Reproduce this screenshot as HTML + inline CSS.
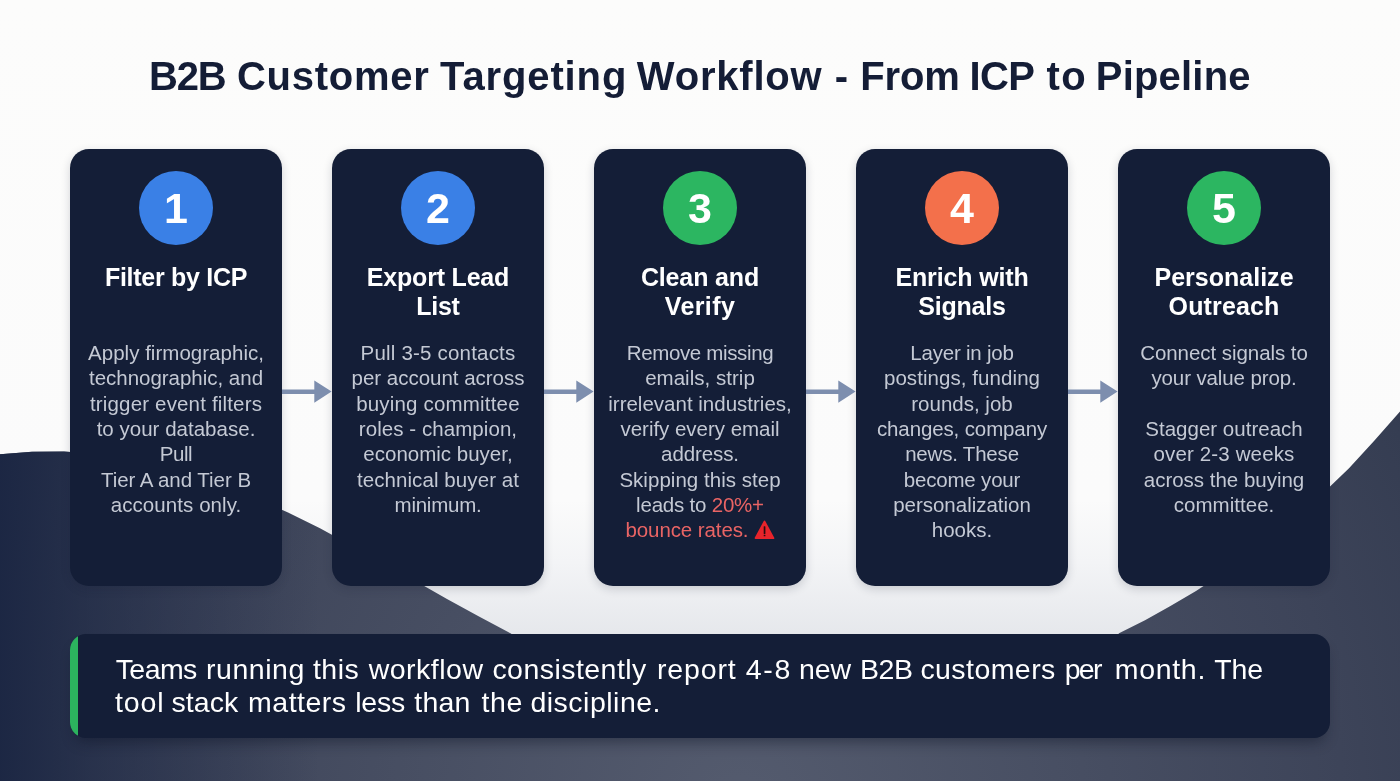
<!DOCTYPE html>
<html lang="en">
<head>
<meta charset="utf-8">
<title>B2B Customer Targeting Workflow - From ICP to Pipeline</title>
<style>
*{box-sizing:border-box;margin:0;padding:0}
html,body{width:1400px;height:781px;overflow:hidden;background:#fcfcfc}
body{position:relative;font-family:"Liberation Sans",sans-serif;-webkit-font-smoothing:antialiased}
#bg{position:absolute;left:0;top:0;width:1400px;height:781px}
h1{position:absolute;left:0;top:52px;width:1400px;text-align:left;font-size:40px;line-height:48px;font-weight:700;color:#141d36;white-space:nowrap;letter-spacing:0}
.card{position:absolute;top:149px;width:212px;height:437px;border-radius:19px;background:#141e37;box-shadow:0 3px 10px rgba(20,28,50,.18)}
.num{position:absolute;left:69px;top:22px;width:74px;height:74px;border-radius:50%;color:#fff;font-weight:700;font-size:43px;line-height:74.4px;text-align:center}
.blue{background:#3a80e6}.green{background:#2cb661}.orange{background:#f3704b}
.card h2{position:absolute;left:0;top:114px;width:212px;text-align:center;color:#fff;font-size:25px;line-height:29.2px;font-weight:700;white-space:nowrap}
.card p{position:absolute;left:0;top:191.3px;width:212px;text-align:center;color:#c4c9d4;font-size:20.5px;line-height:25.35px;white-space:nowrap}
.red{color:#e96464}
span.l{display:block}
span.wl{position:relative}
h1 span.wl{height:48px}
#bar span.wl{height:33px}
span.w{position:absolute;top:0}
h1,h2,p,.num{will-change:transform}
.warn{display:inline-block;vertical-align:-2.6px;margin-left:-0.6px}
.arrow{position:absolute;top:379px;width:50px;height:26px}
#bar{position:absolute;left:70px;top:634px;width:1260px;height:104px;border-radius:16px;background:#141e37;overflow:hidden;box-shadow:0 9px 14px -5px rgba(12,18,36,.45)}
#bar:before{content:"";position:absolute;left:0;top:0;width:8px;height:100%;background:#2cb35e}
#bar p{position:absolute;left:45px;top:18.5px;width:1200px;color:#fff;font-size:28.5px;line-height:33px;white-space:nowrap}
</style>
</head>
<body>
<svg id="bg" viewBox="0 0 1400 781">
  <defs>
    <radialGradient id="g1" gradientUnits="userSpaceOnUse" cx="740" cy="805" r="860">
      <stop offset="0" stop-color="#545b6e"/>
      <stop offset="0.4" stop-color="#474e62"/>
      <stop offset="0.7" stop-color="#3d4459"/>
      <stop offset="0.88" stop-color="#353d52"/>
      <stop offset="1" stop-color="#2c344a"/>
    </radialGradient>
    <linearGradient id="g2" gradientUnits="userSpaceOnUse" x1="0" y1="0" x2="320" y2="0">
      <stop offset="0" stop-color="#1b2643" stop-opacity="0.95"/>
      <stop offset="0.3" stop-color="#1d2845" stop-opacity="0.6"/>
      <stop offset="1" stop-color="#1d2845" stop-opacity="0"/>
    </linearGradient>
    <linearGradient id="g0" x1="0" y1="0" x2="0" y2="1">
      <stop offset="0" stop-color="#fcfcfb"/>
      <stop offset="0.64" stop-color="#fbfbfb"/>
      <stop offset="0.72" stop-color="#f3f4f6"/>
      <stop offset="0.81" stop-color="#e6e8ec"/>
      <stop offset="1" stop-color="#e6e8ec"/>
    </linearGradient>
  </defs>
  <rect width="1400" height="781" fill="url(#g0)"/>
  <path id="wave" d="M0,454.2 L32,451.7 L64,451.6 L96,453.9 L128,458.5 L160,465.4 L192,474.4 L224,485.4 L256,498.2 L288,512.6 L320,528.3 L351,545.2 L383,562.8 L415,580.8 L447,598.9 L479,616.6 L511,633.6 L514,637 L1116,637 L1119,633.3 L1145,620.3 L1170,606.2 L1196,591.1 L1221,574.6 L1247,556.8 L1272,537.4 L1298,516.2 L1323,493.2 L1349,468.2 L1374,441.0 L1400,411.4 L1400,781 L0,781 Z" fill="url(#g1)"/>
  <path d="M0,454.2 L32,451.7 L64,451.6 L96,453.9 L128,458.5 L160,465.4 L192,474.4 L224,485.4 L256,498.2 L288,512.6 L320,528.3 L351,545.2 L383,562.8 L415,580.8 L447,598.9 L479,616.6 L511,633.6 L514,637 L1116,637 L1119,633.3 L1145,620.3 L1170,606.2 L1196,591.1 L1221,574.6 L1247,556.8 L1272,537.4 L1298,516.2 L1323,493.2 L1349,468.2 L1374,441.0 L1400,411.4 L1400,781 L0,781 Z" fill="url(#g2)"/>
</svg>

<h1><span class="l wl" id="t0"><span class="w" style="left:149.10px;letter-spacing:-1.266px">B2B</span> <span class="w" style="left:236.90px;letter-spacing:0.738px">Customer</span> <span class="w" style="left:440.10px;letter-spacing:0.872px">Targeting</span> <span class="w" style="left:636.80px;letter-spacing:0.808px">Workflow</span> <span class="w" style="left:834.70px;letter-spacing:0.000px">-</span> <span class="w" style="left:860.20px;letter-spacing:-0.145px">From</span> <span class="w" style="left:969.40px;letter-spacing:-0.550px">ICP</span> <span class="w" style="left:1046.60px;letter-spacing:1.380px">to</span> <span class="w" style="left:1095.80px;letter-spacing:0.195px">Pipeline</span></span></h1>
<div class="card" style="left:70px">
  <div class="num blue">1</div>
  <h2><span class="l" id="h0_0" style="letter-spacing:-0.281px">Filter by ICP</span></h2>
  <p><span class="l" id="b0_0" style="letter-spacing:0.024px">Apply firmographic,</span><span class="l" id="b0_1" style="letter-spacing:-0.017px">technographic, and</span><span class="l" id="b0_2" style="letter-spacing:0.169px">trigger event filters</span><span class="l" id="b0_3" style="letter-spacing:0.017px">to your database.</span><span class="l" id="b0_4" style="letter-spacing:-0.450px">Pull</span><span class="l" id="b0_5" style="letter-spacing:-0.044px">Tier A and Tier B</span><span class="l" id="b0_6" style="letter-spacing:0.082px">accounts only.</span></p>
</div>
<div class="card" style="left:332px">
  <div class="num blue">2</div>
  <h2><span class="l" id="h1_0" style="letter-spacing:-0.198px">Export Lead</span><span class="l" id="h1_1" style="letter-spacing:-0.284px">List</span></h2>
  <p><span class="l" id="b1_0" style="letter-spacing:0.196px">Pull 3-5 contacts</span><span class="l" id="b1_1" style="letter-spacing:-0.024px">per account across</span><span class="l" id="b1_2" style="letter-spacing:0.182px">buying committee</span><span class="l" id="b1_3" style="letter-spacing:0.060px">roles - champion,</span><span class="l" id="b1_4" style="letter-spacing:0.001px">economic buyer,</span><span class="l" id="b1_5" style="letter-spacing:0.083px">technical buyer at</span><span class="l" id="b1_6" style="letter-spacing:-0.249px">minimum.</span></p>
</div>
<div class="card" style="left:594px">
  <div class="num green">3</div>
  <h2><span class="l" id="h2_0" style="letter-spacing:-0.136px">Clean and</span><span class="l" id="h2_1" style="letter-spacing:0.378px">Verify</span></h2>
  <p><span class="l" id="b2_0" style="letter-spacing:-0.356px">Remove missing</span><span class="l" id="b2_1" style="letter-spacing:0.028px">emails, strip</span><span class="l" id="b2_2" style="letter-spacing:0.002px">irrelevant industries,</span><span class="l" id="b2_3" style="letter-spacing:-0.029px">verify every email</span><span class="l" id="b2_4" style="letter-spacing:-0.106px">address.</span><span class="l" id="b2_5" style="letter-spacing:0.030px">Skipping this step</span><span class="l" id="b2_6" style="letter-spacing:-0.210px">leads to <span class="red">20%+</span></span><span class="l" id="b2_7" style="letter-spacing:-0.096px"><span class="red">bounce rates.</span> <svg class="warn" width="21" height="20" viewBox="0 0 21 20"><path d="M10.5 1.6 L19.4 18.1 L1.6 18.1 Z" fill="#e8242b" stroke="#e8242b" stroke-width="2" stroke-linejoin="round"/><rect x="9.7" y="6.2" width="1.7" height="7.8" rx="0.5" fill="#2a0b10"/><rect x="9.7" y="14.7" width="1.7" height="1.6" rx="0.4" fill="#2a0b10"/></svg></span></p>
</div>
<div class="card" style="left:856px">
  <div class="num orange">4</div>
  <h2><span class="l" id="h3_0" style="letter-spacing:-0.143px">Enrich with</span><span class="l" id="h3_1" style="letter-spacing:-0.220px">Signals</span></h2>
  <p><span class="l" id="b3_0" style="letter-spacing:-0.226px">Layer in job</span><span class="l" id="b3_1" style="letter-spacing:0.068px">postings, funding</span><span class="l" id="b3_2" style="letter-spacing:0.006px">rounds, job</span><span class="l" id="b3_3" style="letter-spacing:-0.125px">changes, company</span><span class="l" id="b3_4" style="letter-spacing:-0.196px">news. These</span><span class="l" id="b3_5" style="letter-spacing:-0.182px">become your</span><span class="l" id="b3_6" style="letter-spacing:-0.022px">personalization</span><span class="l" id="b3_7" style="letter-spacing:-0.001px">hooks.</span></p>
</div>
<div class="card" style="left:1118px">
  <div class="num green">5</div>
  <h2><span class="l" id="h4_0" style="letter-spacing:0.015px">Personalize</span><span class="l" id="h4_1" style="letter-spacing:0.133px">Outreach</span></h2>
  <p><span class="l" id="b4_0" style="letter-spacing:-0.056px">Connect signals to</span><span class="l" id="b4_1" style="letter-spacing:-0.121px">your value prop.</span><span class="l" id="b4_2">&nbsp;</span><span class="l" id="b4_3" style="letter-spacing:0.015px">Stagger outreach</span><span class="l" id="b4_4" style="letter-spacing:0.137px">over 2-3 weeks</span><span class="l" id="b4_5" style="letter-spacing:-0.012px">across the buying</span><span class="l" id="b4_6" style="letter-spacing:0.039px">committee.</span></p>
</div>
<svg class="arrow" style="left:282px" viewBox="0 0 50 26"><path d="M0,10.4 H32.3 V1.4 L49.6,12.6 L32.3,23.8 V14.9 H0 Z" fill="#7d8eae"/></svg>
<svg class="arrow" style="left:544px" viewBox="0 0 50 26"><path d="M0,10.4 H32.3 V1.4 L49.6,12.6 L32.3,23.8 V14.9 H0 Z" fill="#7d8eae"/></svg>
<svg class="arrow" style="left:806px" viewBox="0 0 50 26"><path d="M0,10.4 H32.3 V1.4 L49.6,12.6 L32.3,23.8 V14.9 H0 Z" fill="#7d8eae"/></svg>
<svg class="arrow" style="left:1068px" viewBox="0 0 50 26"><path d="M0,10.4 H32.3 V1.4 L49.6,12.6 L32.3,23.8 V14.9 H0 Z" fill="#7d8eae"/></svg>
<div id="bar"><p><span class="l wl" id="f0"><span class="w" style="left:0.70px;letter-spacing:-0.573px">Teams</span> <span class="w" style="left:91.10px;letter-spacing:0.513px">running</span> <span class="w" style="left:197.90px;letter-spacing:0.533px">this</span> <span class="w" style="left:253.70px;letter-spacing:0.490px">workflow</span> <span class="w" style="left:377.40px;letter-spacing:0.459px">consistently</span> <span class="w" style="left:542.00px;letter-spacing:0.834px">report</span> <span class="w" style="left:630.70px;letter-spacing:1.679px">4-8</span> <span class="w" style="left:684.00px;letter-spacing:-0.150px">new</span> <span class="w" style="left:745.00px;letter-spacing:-0.430px">B2B</span> <span class="w" style="left:805.40px;letter-spacing:0.437px">customers</span> <span class="w" style="left:949.70px;letter-spacing:-1.750px">per</span> <span class="w" style="left:999.70px;letter-spacing:0.698px">month.</span> <span class="w" style="left:1099.30px;letter-spacing:-0.130px">The</span></span><span class="l wl" id="f1"><span class="w" style="left:-0.10px;letter-spacing:0.927px">tool</span> <span class="w" style="left:56.40px;letter-spacing:0.108px">stack</span> <span class="w" style="left:133.10px;letter-spacing:0.472px">matters</span> <span class="w" style="left:240.30px;letter-spacing:-0.277px">less</span> <span class="w" style="left:299.30px;letter-spacing:0.227px">than</span> <span class="w" style="left:366.40px;letter-spacing:0.616px">the</span> <span class="w" style="left:415.40px;letter-spacing:0.497px">discipline.</span></span></p></div>
</body>
</html>
